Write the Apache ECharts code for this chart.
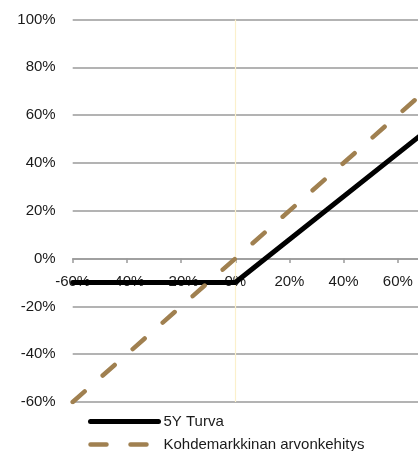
<!DOCTYPE html>
<html>
<head>
<meta charset="utf-8">
<script src="https://cdn.jsdelivr.net/npm/echarts@6/dist/echarts.min.js"></script>
<style>
html,body{margin:0;padding:0;overflow:hidden;background:#fff;width:418px;height:451px;}
#c{width:470px;height:480px;}
</style>
</head>
<body>
<div id="c"></div>
<script>
// Data
var xValues = [-60, 0, 80];
var turva = [-10, -10, 62];
var kohdeX = [-60, 80];
var kohde = [-60, 80];
var seriesNames = ['5Y Turva', 'Kohdemarkkinan arvonkehitys'];
var yTicks = {min: -60, max: 100, interval: 20};
var xTicks = {min: -60, max: 80, interval: 20};

var chart = echarts.init(document.getElementById('c'), null, {renderer: 'canvas'});
var font = 'Liberation Sans, Arial, sans-serif';
function pct(v){ return v + '%'; }

var gridTop = 19.5, H = 480, gridBottom = H - 402;
var plotH = H - gridTop - gridBottom;
var zeroOffset = -plotH * (0 - yTicks.min) / (yTicks.max - yTicks.min);

var blackStyle = {color: '#000', width: 5, cap: 'round', join: 'round'};
var dashStyle = {color: '#a08050', width: 4.5, type: [16, 24], cap: 'round'};

chart.setOption({
  animation: false,
  backgroundColor: '#fff',
  grid: {left: 72.7, right: 470 - 454.7, top: gridTop, bottom: gridBottom},
  xAxis: {
    type: 'value', min: xTicks.min, max: xTicks.max, interval: xTicks.interval,
    position: 'bottom', offset: zeroOffset,
    axisLine: {show: true, onZero: false, lineStyle: {color: '#9a9a9a', width: 1.5}},
    axisTick: {show: true, length: 4.5, lineStyle: {color: '#9a9a9a', width: 1.5}},
    axisLabel: {formatter: pct, color: '#1a1a1a', fontSize: 15, fontFamily: font, margin: 15.5},
    splitLine: {show: false}
  },
  yAxis: {
    type: 'value', min: yTicks.min, max: yTicks.max, interval: yTicks.interval,
    axisLine: {show: false}, axisTick: {show: false},
    axisLabel: {formatter: pct, color: '#1a1a1a', fontSize: 15, fontFamily: font, margin: 17},
    splitLine: {show: true, lineStyle: {color: '#9a9a9a', width: 1.5}}
  },
  legend: {
    orient: 'vertical', left: 88, top: 414, padding: 0, height: 60,
    itemWidth: 68, itemHeight: 14, itemGap: 8,
    itemStyle: {opacity: 0},
    textStyle: {color: '#1a1a1a', fontSize: 15, fontFamily: font},
    data: [
      {name: seriesNames[0], lineStyle: blackStyle},
      {name: seriesNames[1], lineStyle: dashStyle}
    ]
  },
  series: [
    {
      name: seriesNames[1], type: 'line', showSymbol: false, symbol: 'none',
      data: kohdeX.map(function(x, i){ return [x, kohde[i]]; }),
      lineStyle: dashStyle,
      itemStyle: {color: '#a08050'},
      z: 3,
      markLine: {
        silent: true, symbol: 'none', label: {show: false},
        lineStyle: {color: '#fbf0cc', width: 1.2, type: 'solid'},
        data: [{xAxis: 0}], z: 1
      }
    },
    {
      name: seriesNames[0], type: 'line', showSymbol: false, symbol: 'none',
      data: xValues.map(function(x, i){ return [x, turva[i]]; }),
      lineStyle: blackStyle,
      itemStyle: {color: '#000'},
      z: 2
    }
  ]
});
</script>
</body>
</html>
